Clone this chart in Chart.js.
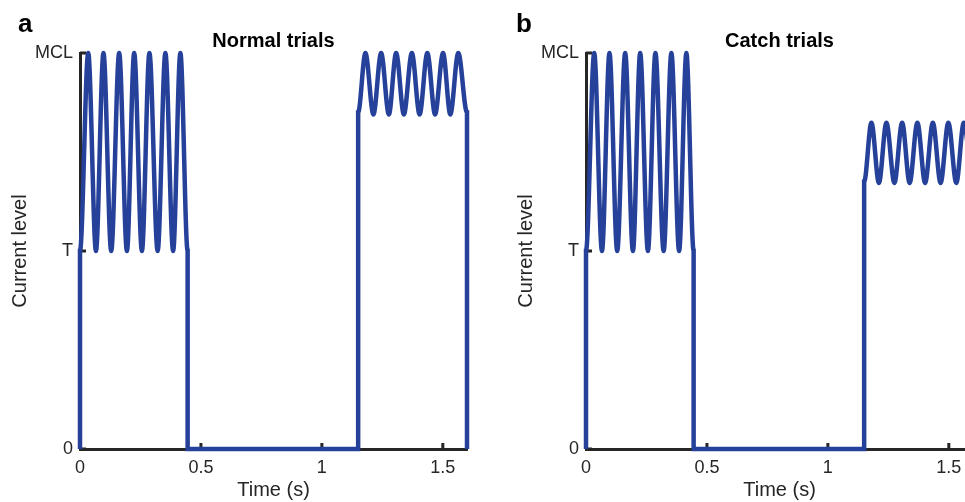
<!DOCTYPE html>
<html>
<head>
<meta charset="utf-8">
<script src="https://cdn.jsdelivr.net/npm/chart.js@4/dist/chart.umd.min.js"></script>
<style>
html, body { margin: 0; padding: 0; background: #fff; overflow: hidden; width: 965px; height: 502px; }
.panel { position: absolute; top: 0; width: 480px; height: 502px; }
#panelA { left: 0; }
#panelB { left: 506px; }
</style>
</head>
<body>
<div class="panel" id="panelA"><canvas id="normalChart"></canvas></div>
<div class="panel" id="panelB"><canvas id="catchChart"></canvas></div>
<script>
// tick values / labels
const xTickValues = [0, 0.5, 1, 1.5];
const xTickLabels = ['0', '0.5', '1', '1.5'];
const yTickValues = [0, 0.5, 1];
const yTickLabels = ['0', 'T', 'MCL'];

const normalTime = [0, 0, 0.034, 0.066, 0.097, 0.129, 0.162, 0.194, 0.224, 0.256, 0.287, 0.321, 0.353, 0.385, 0.415, 0.445, 0.445,
    1.15, 1.15, 1.180, 1.213, 1.245, 1.277, 1.307, 1.339, 1.372, 1.404, 1.436, 1.468, 1.501, 1.531, 1.564, 1.6, 1.6];
const normalLevel = [0, 0.5, 1, 0.5, 1, 0.5, 1, 0.5, 1, 0.5, 1, 0.5, 1, 0.5, 1, 0.5, 0,
    0, 0.85, 1, 0.845, 1, 0.845, 1, 0.845, 1, 0.845, 1, 0.845, 1, 0.845, 1, 0.85, 0];

// catch trials
const catchTime = [0, 0, 0.034, 0.066, 0.097, 0.129, 0.162, 0.194, 0.224, 0.256, 0.287, 0.321, 0.353, 0.385, 0.415, 0.445, 0.445,
    1.15, 1.15, 1.180, 1.211, 1.242, 1.275, 1.307, 1.338, 1.370, 1.402, 1.434, 1.466, 1.498, 1.531, 1.562, 1.6, 1.6];
const catchLevel = [0, 0.5, 1, 0.5, 1, 0.5, 1, 0.5, 1, 0.5, 1, 0.5, 1, 0.5, 1, 0.5, 0,
    0, 0.675, 0.824, 0.672, 0.824, 0.672, 0.824, 0.672, 0.824, 0.672, 0.824, 0.672, 0.824, 0.672, 0.824, 0.675, 0];

const lineColor = '#26419a';
const axisColor = '#262626';
const fontFamily = "'Liberation Sans', Arial, Helvetica, sans-serif";

// small inward tick marks, like the original
const tickMarks = {
    id: 'tickMarks',
    beforeDatasetsDraw(chart) {
        const {ctx, chartArea, scales: {x, y}} = chart;
        ctx.save();
        ctx.strokeStyle = axisColor;
        ctx.lineWidth = 3;
        ctx.beginPath();
        xTickValues.forEach(v => {
            const px = x.getPixelForValue(v);
            ctx.moveTo(px, chartArea.bottom);
            ctx.lineTo(px, chartArea.bottom - 6);
        });
        yTickValues.forEach(v => {
            const py = y.getPixelForValue(v);
            ctx.moveTo(chartArea.left, py);
            ctx.lineTo(chartArea.left + 6, py);
        });
        ctx.stroke();
        ctx.restore();
    }
};

// panel letter and title
const panelText = {
    id: 'panelText',
    afterDraw(chart, args, opts) {
        const {ctx, chartArea} = chart;
        ctx.save();
        ctx.fillStyle = '#000';
        ctx.textBaseline = 'alphabetic';
        ctx.font = 'bold 26px ' + fontFamily;
        ctx.fillText(opts.letter, opts.letterX, 32);
        ctx.font = 'bold 20px ' + fontFamily;
        ctx.textAlign = 'center';
        ctx.fillText(opts.title, (chartArea.left + chartArea.right) / 2, 47);
        ctx.restore();
    }
};

function makeChart(canvasId, time, level, letter, letterX, title) {
    const ctx = document.getElementById(canvasId).getContext('2d');
    return new Chart(ctx, {
        type: 'line',
        data: {
            datasets: [{
                data: time.map((t, i) => ({x: t, y: level[i]})),
                borderColor: lineColor,
                borderWidth: 4.5,
                cubicInterpolationMode: 'monotone',
                pointRadius: 0,
                fill: false,
                clip: false
            }]
        },
        options: {
            responsive: true,
            maintainAspectRatio: false,
            animation: false,
            layout: {padding: {top: 53, right: 13, left: 0, bottom: 0}},
            plugins: {
                legend: {display: false},
                tooltip: {enabled: false},
                panelText: {letter: letter, letterX: letterX, title: title}
            },
            scales: {
                x: {
                    type: 'linear',
                    min: 0,
                    max: 1.6,
                    grid: {display: false, drawTicks: false},
                    border: {display: true, color: axisColor, width: 3},
                    afterBuildTicks: s => { s.ticks = xTickValues.map(v => ({value: v})); },
                    afterFit: s => { s.height = 53; },
                    ticks: {
                        color: axisColor,
                        font: {family: fontFamily, size: 18},
                        padding: 8,
                        maxRotation: 0,
                        autoSkip: false,
                        callback: v => xTickLabels[xTickValues.indexOf(v)]
                    },
                    title: {
                        display: true,
                        text: 'Time (s)',
                        color: axisColor,
                        font: {family: fontFamily, size: 20},
                        padding: {top: 0, bottom: 0}
                    }
                },
                y: {
                    type: 'linear',
                    min: 0,
                    max: 1,
                    grid: {display: false, drawTicks: false},
                    border: {display: true, color: axisColor, width: 3},
                    afterBuildTicks: s => { s.ticks = yTickValues.map(v => ({value: v})); },
                    afterFit: s => { s.width = 80; },
                    ticks: {
                        color: axisColor,
                        font: {family: fontFamily, size: 18},
                        padding: 7,
                        autoSkip: false,
                        callback: v => yTickLabels[yTickValues.indexOf(v)]
                    },
                    title: {
                        display: true,
                        text: 'Current level',
                        color: axisColor,
                        font: {family: fontFamily, size: 20},
                        padding: {top: 8, bottom: 0}
                    }
                }
            }
        },
        plugins: [tickMarks, panelText]
    });
}

const normalChart = makeChart('normalChart', normalTime, normalLevel, 'a', 18, 'Normal trials');
const catchChart = makeChart('catchChart', catchTime, catchLevel, 'b', 10, 'Catch trials');
</script>
</body>
</html>
